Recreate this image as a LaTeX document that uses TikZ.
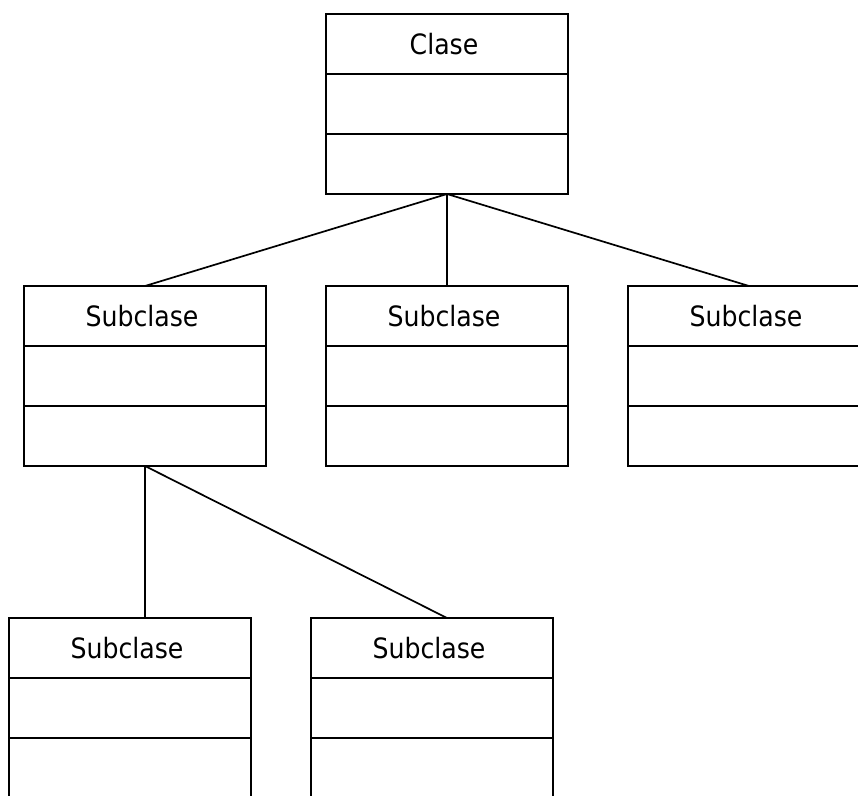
\documentclass[tikz,border=0pt]{standalone}
\usepackage{fontspec}
\setmainfont{DejaVu Sans Condensed}
\begin{document}
\begin{tikzpicture}[x=1pt,y=-1pt,
  classframe/.style={draw,line width=1.7pt,minimum width=242pt,minimum height=180pt,inner sep=0pt,outer sep=0pt},
  classtitle/.style={font=\fontsize{28}{33}\selectfont,inner sep=0pt},
  link/.style={line width=1.7pt}]
\useasboundingbox (0,0) rectangle (858,795);
\clip (0,0) rectangle (858,795);
% a class box: frame, name compartment and two empty compartments
\newcommand\umlclass[4]{%
  \node[classframe] (#1) at (#2,#3) {};
  \node[classtitle] (#1-name) at ([xshift=-3pt,yshift=-30pt]#1.north) {#4};
  \draw[line width=1.7pt] ([yshift=-60pt]#1.north west) -- ([yshift=-60pt]#1.north east);
  \draw[line width=1.7pt] ([yshift=60pt]#1.south west) -- ([yshift=60pt]#1.south east);
}
\umlclass{c}{447}{104}{Clase}
\umlclass{s1}{145}{376}{Subclase}
\umlclass{s2}{447}{376}{Subclase}
\umlclass{s3}{749}{376}{Subclase}
\umlclass{s4}{130}{708}{Subclase}
\umlclass{s5}{432}{708}{Subclase}
% inheritance links
\draw[link] (c.south) -- (s1.north);
\draw[link] (c.south) -- (s2.north);
\draw[link] (c.south) -- (s3.north);
\draw[link] (s1.south) -- ([xshift=15pt]s4.north);
\draw[link] (s1.south) -- ([xshift=15pt]s5.north);
\end{tikzpicture}
\end{document}
